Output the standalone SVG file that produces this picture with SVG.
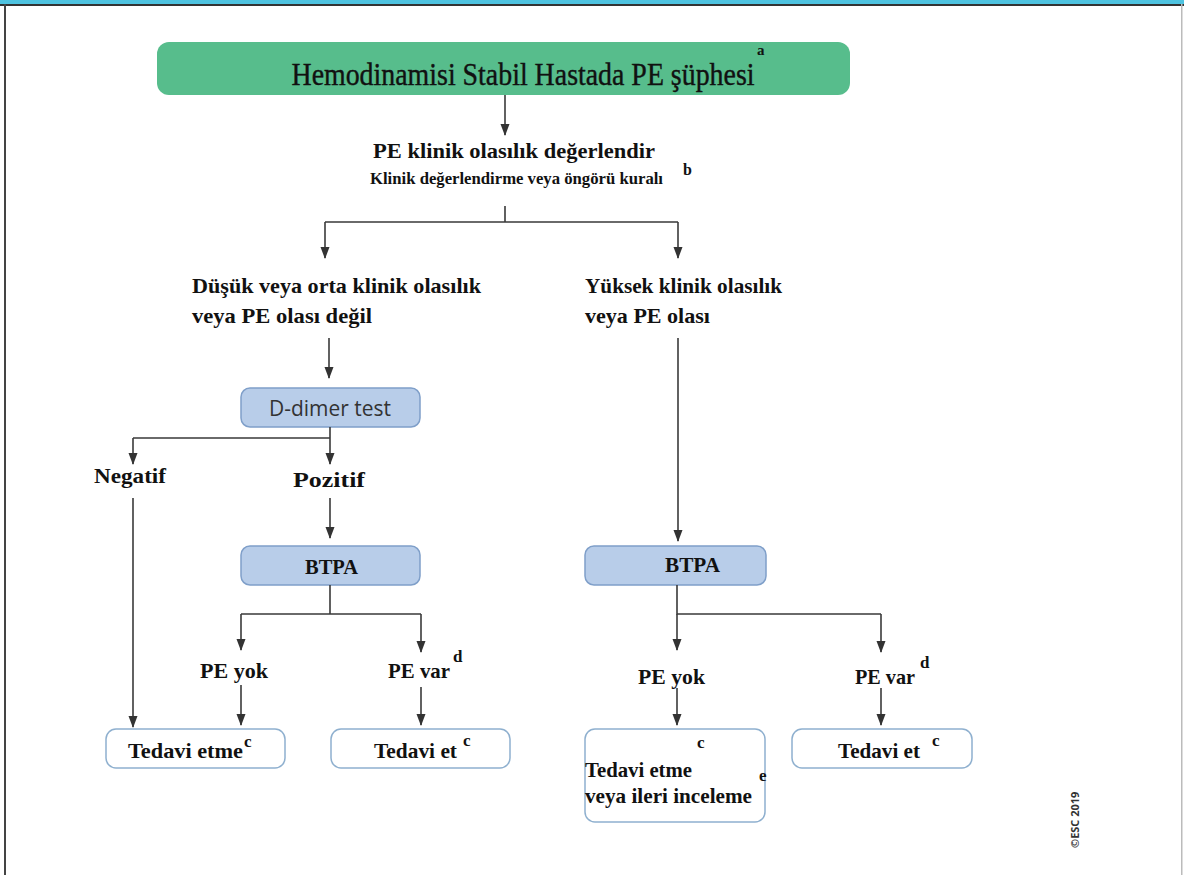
<svg xmlns="http://www.w3.org/2000/svg" width="1184" height="875" viewBox="0 0 1184 875">
  <style>
    .t { fill: #111; font-weight: bold; }
    .sup { font-size: 17px; }
    .sans { font-family: "Open Sans", "DejaVu Sans", sans-serif; fill: #333; }
    .blue { fill: #b8cde9; stroke: #7f9fc9; stroke-width: 1.5; }
    .white { fill: #ffffff; stroke: #8fb0cf; stroke-width: 1.5; }
    .conn { fill: none; stroke: #3a3a3a; stroke-width: 1.6; }
  </style>
  <defs>
    <marker id="arrow" viewBox="0 0 12 10" refX="11" refY="5" markerWidth="12" markerHeight="10" markerUnits="userSpaceOnUse" orient="auto">
      <path d="M0,0.5 L12,5 L0,9.5 z" fill="#333"/>
    </marker>
  </defs>

  <!-- page frame -->
  <rect x="0" y="0" width="1184" height="875" fill="#ffffff"/>
  <rect x="0" y="0" width="1184" height="4" fill="#4ec3e0"/>
  <rect x="0" y="4" width="1184" height="2" fill="#333"/>
  <rect x="4" y="4" width="2" height="871" fill="#444"/>
  <rect x="1181" y="4" width="1.5" height="871" fill="#bbb"/>

  <g font-family="Liberation Serif, Times New Roman, serif">
  <g id="start">
    <rect x="157" y="42" width="693" height="53" rx="12" fill="#57bd8c"/>
    <text x="523" y="85" text-anchor="middle" font-size="32" fill="#111" stroke="#111" stroke-width="0.4" textLength="463" lengthAdjust="spacingAndGlyphs">Hemodinamisi Stabil Hastada PE şüphesi</text>
    <text x="757" y="55" class="t" font-size="15">a</text>
  </g>

  <g id="assess">
    <text x="373" y="158" class="t" font-size="22" textLength="282" lengthAdjust="spacingAndGlyphs">PE klinik olasılık değerlendir</text>
    <text x="370" y="184" class="t" font-size="16" textLength="293" lengthAdjust="spacingAndGlyphs">Klinik değerlendirme veya öngörü kuralı</text>
    <text x="683" y="175" class="t" font-size="16">b</text>
  </g>

  <g id="low">
    <text x="192" y="293" class="t" font-size="22" textLength="289" lengthAdjust="spacingAndGlyphs">Düşük veya orta klinik olasılık</text>
    <text x="192" y="323" class="t" font-size="22" textLength="180" lengthAdjust="spacingAndGlyphs">veya PE olası değil</text>
  </g>

  <g id="high">
    <text x="585" y="293" class="t" font-size="22" textLength="197" lengthAdjust="spacingAndGlyphs">Yüksek klinik olasılık</text>
    <text x="585" y="323" class="t" font-size="22" textLength="125" lengthAdjust="spacingAndGlyphs">veya PE olası</text>
  </g>

  <g id="ddimer">
    <rect x="241" y="388" width="179" height="39" rx="9" class="blue"/>
    <text x="269" y="416" class="sans" font-size="21" textLength="122" lengthAdjust="spacingAndGlyphs">D-dimer test</text>
  </g>

  <g id="negatif">
    <text x="94" y="483" class="t" font-size="21" textLength="72" lengthAdjust="spacingAndGlyphs">Negatif</text>
  </g>
  <g id="pozitif">
    <text x="293" y="487" class="t" font-size="21" textLength="72" lengthAdjust="spacingAndGlyphs">Pozitif</text>
  </g>

  <g id="btpa-left">
    <rect x="241" y="546" width="179" height="39" rx="9" class="blue"/>
    <text x="305" y="574" class="t" font-size="21" textLength="53" lengthAdjust="spacingAndGlyphs">BTPA</text>
  </g>

  <g id="btpa-right">
    <rect x="585" y="546" width="181" height="39" rx="9" class="blue"/>
    <text x="665" y="572" class="t" font-size="21" textLength="55" lengthAdjust="spacingAndGlyphs">BTPA</text>
  </g>

  <g id="peyok-left">
    <text x="200" y="678" class="t" font-size="21" textLength="68" lengthAdjust="spacingAndGlyphs">PE yok</text>
  </g>
  <g id="pevar-left">
    <text x="388" y="678" class="t" font-size="21" textLength="62" lengthAdjust="spacingAndGlyphs">PE var</text>
    <text x="453" y="662" class="t sup">d</text>
  </g>
  <g id="peyok-right">
    <text x="638" y="684" class="t" font-size="21" textLength="67" lengthAdjust="spacingAndGlyphs">PE yok</text>
  </g>
  <g id="pevar-right">
    <text x="855" y="684" class="t" font-size="21" textLength="60" lengthAdjust="spacingAndGlyphs">PE var</text>
    <text x="920" y="668" class="t sup">d</text>
  </g>

  <g id="tedavi-etme-left">
    <rect x="106" y="729" width="179" height="39" rx="10" class="white"/>
    <text x="128" y="758" class="t" font-size="21" textLength="115" lengthAdjust="spacingAndGlyphs">Tedavi etme</text>
    <text x="244" y="747" class="t sup">c</text>
  </g>

  <g id="tedavi-et-left">
    <rect x="331" y="729" width="179" height="39" rx="10" class="white"/>
    <text x="374" y="758" class="t" font-size="21" textLength="83" lengthAdjust="spacingAndGlyphs">Tedavi et</text>
    <text x="463" y="746" class="t sup">c</text>
  </g>

  <g id="tedavi-etme-right">
    <rect x="585" y="729" width="180" height="93" rx="10" class="white"/>
    <text x="697" y="748" class="t sup">c</text>
    <text x="585" y="777" class="t" font-size="21" textLength="107" lengthAdjust="spacingAndGlyphs">Tedavi etme</text>
    <text x="759" y="781" class="t sup">e</text>
    <text x="585" y="803" class="t" font-size="21" textLength="167" lengthAdjust="spacingAndGlyphs">veya ileri inceleme</text>
  </g>

  <g id="tedavi-et-right">
    <rect x="792" y="729" width="180" height="39" rx="10" class="white"/>
    <text x="838" y="758" class="t" font-size="21" textLength="82" lengthAdjust="spacingAndGlyphs">Tedavi et</text>
    <text x="932" y="746" class="t sup">c</text>
  </g>
  </g>

  <text x="1079" y="848" transform="rotate(-90 1079 848)" class="sans" font-size="11" font-weight="bold" fill="#777">©ESC 2019</text>

  <g id="connectors">
    <line x1="505" y1="95" x2="505" y2="135" class="conn" marker-end="url(#arrow)"/>
    <path d="M505,206 V222 M325,222 H678" class="conn"/>
    <line x1="325" y1="222" x2="325" y2="258" class="conn" marker-end="url(#arrow)"/>
    <line x1="678" y1="222" x2="678" y2="258" class="conn" marker-end="url(#arrow)"/>

    <line x1="329" y1="338" x2="329" y2="378" class="conn" marker-end="url(#arrow)"/>
    <path d="M330,427 V438 M133,438 H330" class="conn"/>
    <line x1="133" y1="438" x2="133" y2="464" class="conn" marker-end="url(#arrow)"/>
    <line x1="330" y1="438" x2="330" y2="464" class="conn" marker-end="url(#arrow)"/>
    <line x1="133" y1="498" x2="133" y2="727" class="conn" marker-end="url(#arrow)"/>
    <line x1="330" y1="498" x2="330" y2="538" class="conn" marker-end="url(#arrow)"/>

    <path d="M330,585 V614 M241,614 H421" class="conn"/>
    <line x1="241" y1="614" x2="241" y2="650" class="conn" marker-end="url(#arrow)"/>
    <line x1="421" y1="614" x2="421" y2="652" class="conn" marker-end="url(#arrow)"/>
    <line x1="241" y1="685" x2="241" y2="725" class="conn" marker-end="url(#arrow)"/>
    <line x1="421" y1="687" x2="421" y2="725" class="conn" marker-end="url(#arrow)"/>

    <line x1="678" y1="338" x2="678" y2="541" class="conn" marker-end="url(#arrow)"/>
    <path d="M677,585 V614 H881" class="conn"/>
    <line x1="677" y1="614" x2="677" y2="650" class="conn" marker-end="url(#arrow)"/>
    <line x1="881" y1="614" x2="881" y2="652" class="conn" marker-end="url(#arrow)"/>
    <line x1="677" y1="688" x2="677" y2="725" class="conn" marker-end="url(#arrow)"/>
    <line x1="881" y1="688" x2="881" y2="725" class="conn" marker-end="url(#arrow)"/>
  </g>
</svg>
